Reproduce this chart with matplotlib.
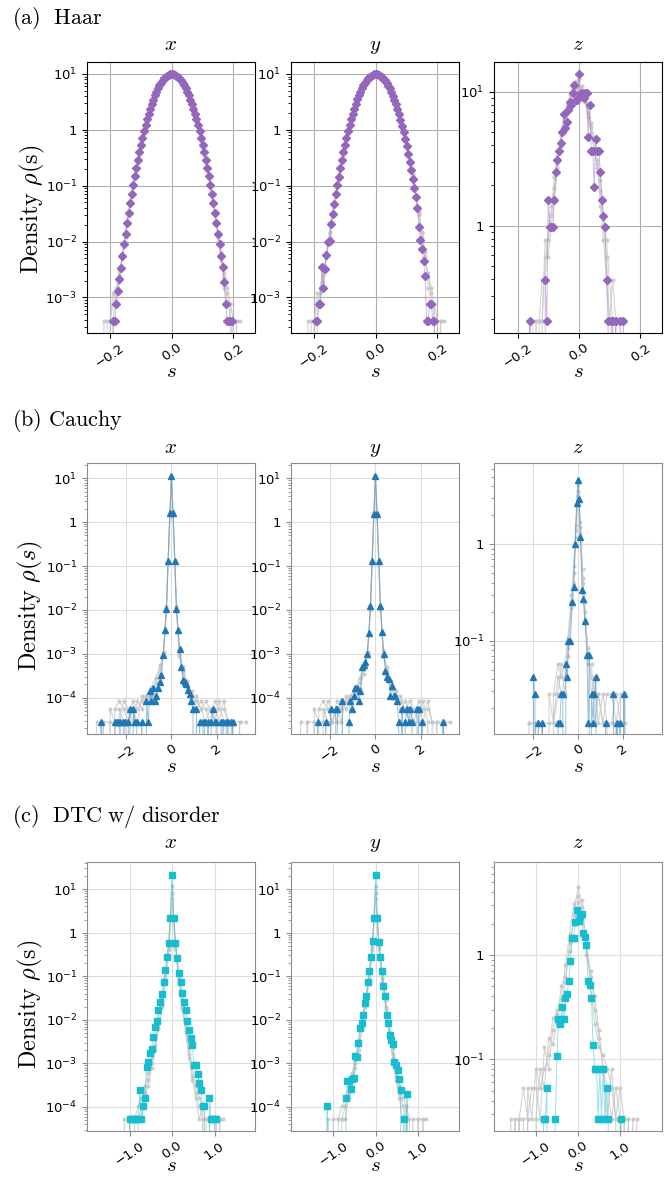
import numpy as np
import matplotlib
matplotlib.use('Agg')
import matplotlib.pyplot as plt
from matplotlib.ticker import LogLocator, FixedLocator, FuncFormatter, NullFormatter

# ---------------- (a) Haar ----------------
haar_bins = [-0.195, -0.19, -0.185, -0.18, -0.175, -0.17, -0.165, -0.16, -0.155, -0.15,
             -0.145, -0.14, -0.135, -0.13, -0.125, -0.12, -0.115, -0.11, -0.105, -0.1,
             -0.095, -0.09, -0.085, -0.08, -0.075, -0.07, -0.065, -0.06, -0.055, -0.05,
             -0.045, -0.04, -0.035, -0.03, -0.025, -0.02, -0.015, -0.01, -0.005, 0.0,
             0.005, 0.01, 0.015, 0.02, 0.025, 0.03, 0.035, 0.04, 0.045, 0.05,
             0.055, 0.06, 0.065, 0.07, 0.075, 0.08, 0.085, 0.09, 0.095, 0.1,
             0.105, 0.11, 0.115, 0.12, 0.125, 0.13, 0.135, 0.14, 0.145, 0.15,
             0.155, 0.16, 0.165, 0.17, 0.175, 0.18, 0.185, 0.19, 0.195, 0.2]
haar_x_rho = [0, 3.8e-4, 3.8e-4, 7.7e-4, 1.3e-3, 2.1e-3, 3.4e-3, 5.6e-3, 8.9e-3, 0.0139,
              0.0214, 0.0324, 0.0484, 0.0714, 0.104, 0.148, 0.209, 0.29, 0.398, 0.537,
              0.714, 0.936, 1.21, 1.54, 1.93, 2.39, 2.91, 3.49, 4.13, 4.81,
              5.53, 6.26, 6.99, 7.69, 8.33, 8.9, 9.36, 9.71, 9.93, 10.0,
              9.93, 9.71, 9.36, 8.9, 8.33, 7.69, 6.99, 6.26, 5.53, 4.81,
              4.13, 3.49, 2.91, 2.39, 1.93, 1.54, 1.21, 0.936, 0.714, 0.537,
              0.398, 0.29, 0.209, 0.148, 0.104, 0.0714, 0.0484, 0.0324, 0.0214, 0.0139,
              0.0089, 0.0056, 0.0035, 0.0019, 7.7e-4, 3.8e-4, 3.8e-4, 3.8e-4, 3.8e-4, 0]
haar_y_rho = [3.8e-4, 3.8e-4, 7.7e-4, 7.7e-4, 3.5e-3, 1.5e-3, 3.2e-3, 5.7e-3, 9.9e-3, 0.0102,
              0.021, 0.031, 0.047, 0.071, 0.102, 0.146, 0.21, 0.29, 0.40, 0.54,
              0.71, 0.94, 1.21, 1.55, 1.94, 2.4, 2.92, 3.5, 4.14, 4.8,
              5.54, 6.25, 6.98, 7.7, 8.32, 8.9, 9.37, 9.72, 9.94, 10.0,
              9.92, 9.7, 9.35, 8.88, 8.3, 7.66, 6.96, 6.22, 5.5, 4.78,
              4.1, 3.46, 2.88, 2.36, 1.9, 1.5, 1.18, 0.91, 0.69, 0.51,
              0.375, 0.27, 0.19, 0.133, 0.092, 0.062, 0.04, 0.018, 0.0105, 0.0072,
              0.0045, 0.0024, 3.8e-4, 3.8e-4, 7.7e-4, 7.7e-4, 3.8e-4, 3.8e-4, 0, 0]
haar_gray_s = [-0.22, -0.21, -0.2, -0.19, -0.18, -0.17, -0.16, -0.15, -0.14, -0.12,
               -0.1, -0.08, -0.06, -0.04, -0.02, 0.0, 0.02, 0.04, 0.06, 0.08,
               0.1, 0.12, 0.14, 0.15, 0.16, 0.17, 0.18, 0.19, 0.2, 0.21, 0.22]
haar_gray1 = [0, 3.8e-4, 3.8e-4, 7.7e-4, 1.2e-3, 2.5e-3, 6.0e-3, 0.014, 0.033, 0.15,
              0.54, 1.55, 3.5, 6.3, 8.9, 10.1, 8.9, 6.2, 3.5, 1.5,
              0.53, 0.15, 0.031, 0.014, 0.0055, 0.0023, 1.2e-3, 3.8e-4, 3.8e-4, 0, 0]
haar_gray2 = [3.8e-4, 0, 0, 3.8e-4, 1.5e-3, 3.0e-3, 5.0e-3, 0.012, 0.030, 0.14,
              0.52, 1.5, 3.4, 6.2, 8.8, 9.9, 8.8, 6.3, 3.5, 1.56,
              0.55, 0.16, 0.034, 0.015, 0.0065, 0.0015, 7.7e-4, 7.7e-4, 0, 3.8e-4, 3.8e-4]
haar_gray3 = [0, 0, 3.8e-4, 1.2e-3, 7.7e-4, 1.9e-3, 5.5e-3, 0.015, 0.034, 0.16,
              0.55, 1.53, 3.5, 6.2, 8.9, 10.0, 8.9, 6.2, 3.4, 1.5,
              0.52, 0.14, 0.030, 0.012, 0.0045, 0.0027, 1.5e-3, 7.7e-4, 3.8e-4, 3.8e-4, 0]

haar_z_s = [-0.165, -0.16, -0.155, -0.115, -0.11, -0.105, -0.1, -0.095, -0.09, -0.085,
            -0.08, -0.075, -0.07, -0.065, -0.06, -0.055, -0.05, -0.045, -0.04, -0.035,
            -0.03, -0.025, -0.02, -0.015, -0.01, -0.005, 0.0, 0.005, 0.01, 0.015,
            0.02, 0.025, 0.03, 0.035, 0.04, 0.045, 0.05, 0.055, 0.06, 0.065,
            0.07, 0.075, 0.08, 0.085, 0.09, 0.095, 0.1, 0.105, 0.11, 0.115,
            0.12, 0.125, 0.13, 0.135, 0.14, 0.145, 0.15]
haar_z_rho = [0, 0.195, 0, 0, 0.39, 0.195, 1.56, 0.97, 0.97, 0.97,
              1.56, 2.53, 3.09, 3.63, 4.12, 5.0, 6.8, 5.38, 5.88, 7.3,
              8.4, 7.9, 9.7, 11.1, 8.7, 8.7, 13.5, 9.6, 9.7, 9.0,
              9.7, 9.7, 4.57, 8.0, 3.6, 3.6, 1.95, 4.4, 3.6, 3.6,
              2.5, 1.56, 1.17, 0.97, 0.39, 0.195, 0, 0.195, 0.195, 0,
              0.195, 0, 0, 0.195, 0, 0.195, 0]
haar_z_gray_s = [-0.16, -0.15, -0.14, -0.13, -0.12, -0.11, -0.1, -0.09, -0.08, -0.07,
                 -0.06, -0.05, -0.04, -0.03, -0.02, -0.01, 0.0, 0.01, 0.02, 0.03,
                 0.04, 0.05, 0.06, 0.07, 0.08, 0.09, 0.1, 0.11, 0.12, 0.13]
haar_z_gray1 = [0, 0.195, 0.195, 0, 0.195, 0.58, 0.78, 1.2, 1.9, 2.9,
                4.3, 5.6, 7.2, 8.8, 10.5, 12.0, 10.8, 10.2, 9.1, 7.6,
                5.8, 4.5, 3.1, 2.2, 1.2, 0.78, 0.39, 0.195, 0, 0]
haar_z_gray2 = [0.195, 0, 0.195, 0.195, 0.39, 0.39, 0.97, 1.4, 2.3, 3.3,
                3.9, 6.1, 6.9, 9.4, 11.0, 10.1, 12.5, 9.3, 8.3, 6.4,
                4.9, 3.8, 2.7, 1.8, 1.0, 0.58, 0.195, 0.39, 0.195, 0]
haar_z_gray3 = [0, 0, 0, 0.195, 0.195, 0.78, 0.58, 1.0, 1.6, 2.7,
                4.7, 5.2, 7.8, 8.1, 9.9, 11.5, 9.5, 11.0, 8.6, 6.9,
                5.4, 3.5, 2.9, 1.4, 0.78, 0.39, 0.195, 0.195, 0.195, 0.195]

# ---------------- (b) Cauchy ----------------
cauchy_x_s = [-3.17, -3.1, -3.03, -2.55, -2.48, -2.41, -2.34, -2.26, -2.19, -2.12,
              -2.05, -1.97, -1.9, -1.83, -1.75, -1.68, -1.61, -1.53, -1.46, -1.39,
              -1.31, -1.24, -1.17, -1.1, -1.02, -0.95, -0.88, -0.8, -0.73, -0.66,
              -0.58, -0.51, -0.44, -0.37, -0.29, -0.22, -0.15, -0.07, 0.0, 0.07,
              0.15, 0.22, 0.29, 0.37, 0.44, 0.51, 0.58, 0.66, 0.73, 0.8,
              0.88, 0.95, 1.02, 1.1, 1.17, 1.24, 1.31, 1.39, 1.46, 1.53,
              1.61, 1.68, 1.75, 1.83, 1.9, 1.97, 2.05, 2.12, 2.19, 2.26,
              2.34, 2.41, 2.48, 2.55, 2.63, 2.7, 2.77]
cauchy_x_rho = [0, 2.8e-5, 0, 0, 2.8e-5, 2.8e-5, 2.8e-5, 2.8e-5, 0, 2.8e-5,
                2.8e-5, 0, 2.8e-5, 5.5e-5, 0, 5.5e-5, 2.8e-5, 2.8e-5, 0, 0,
                2.8e-5, 0, 0, 8.3e-5, 2.8e-5, 1.4e-4, 8.3e-5, 1.7e-4, 8.3e-5, 1.1e-4,
                1.7e-4, 2.3e-4, 3.3e-4, 9.3e-4, 3.5e-3, 0.0104, 0.133, 1.6, 11.3, 1.6,
                0.133, 0.0104, 3.5e-3, 1.26e-3, 5.1e-4, 2.5e-4, 2.3e-4, 2.0e-4, 1.5e-4, 1.2e-4,
                8.3e-5, 5.5e-5, 0, 5.5e-5, 0, 2.8e-5, 0, 2.8e-5, 2.8e-5, 0,
                2.8e-5, 0, 2.8e-5, 5.5e-5, 2.8e-5, 2.8e-5, 0, 0, 2.8e-5, 2.8e-5,
                0, 2.8e-5, 2.8e-5, 0, 2.8e-5, 2.8e-5, 0]
cauchy_y_s = [-2.62, -2.55, -2.48, -2.26, -2.19, -2.12, -2.05, -1.97, -1.9, -1.83,
              -1.75, -1.68, -1.61, -1.53, -1.46, -1.39, -1.24, -1.17, -1.1, -1.02,
              -0.95, -0.88, -0.8, -0.73, -0.66, -0.58, -0.51, -0.44, -0.37, -0.29,
              -0.22, -0.15, -0.07, 0.0, 0.07, 0.15, 0.22, 0.29, 0.37, 0.44,
              0.51, 0.58, 0.66, 0.73, 0.8, 0.88, 0.95, 1.02, 1.1, 1.17,
              1.24, 1.31, 1.39, 1.46, 1.53, 1.61, 1.68, 1.75, 1.83, 1.9,
              1.97, 2.05, 2.12, 2.9, 2.97, 3.04]
cauchy_y_rho = [0, 2.8e-5, 0, 0, 2.8e-5, 0, 0, 5.5e-5, 0, 0,
                5.5e-5, 5.5e-5, 0, 0, 8.3e-5, 0, 0, 2.8e-5, 8.3e-5, 5.5e-5,
                1.1e-4, 1.7e-4, 1.7e-4, 8.3e-5, 1.4e-4, 5.0e-4, 5.5e-4, 6.5e-4, 1.0e-3, 2.9e-3,
                0.012, 0.13, 1.5, 11.3, 1.5, 0.13, 0.012, 3.2e-3, 1.0e-3, 4.0e-4,
                3.0e-4, 2.6e-4, 1.1e-4, 1.8e-4, 1.1e-4, 1.1e-4, 8.3e-5, 2.8e-5, 0, 5.5e-5,
                0, 2.8e-5, 5.5e-5, 2.8e-5, 5.5e-5, 2.8e-5, 0, 0, 5.5e-5, 5.5e-5,
                0, 2.8e-5, 0, 0, 2.8e-5, 0]
cauchy_gray_s = [-3.3, -3.0, -2.7, -2.5, -2.3, -2.1, -1.9, -1.7, -1.5, -1.3,
                 -1.1, -0.9, -0.7, -0.5, -0.35, -0.22, -0.07, 0.0, 0.07, 0.22,
                 0.35, 0.5, 0.7, 0.9, 1.1, 1.3, 1.5, 1.7, 1.9, 2.1,
                 2.3, 2.5, 2.7, 3.0, 3.3]
cauchy_gray1 = [0, 2.8e-5, 2.8e-5, 0, 5.5e-5, 2.8e-5, 2.8e-5, 8.3e-5, 5.5e-5, 8.3e-5,
                1.1e-4, 1.4e-4, 2.2e-4, 4.5e-4, 1.1e-3, 0.011, 1.6, 11.0, 1.6, 0.011,
                1.2e-3, 4.0e-4, 2.0e-4, 1.1e-4, 8.3e-5, 5.5e-5, 2.8e-5, 5.5e-5, 2.8e-5, 8.3e-5,
                2.8e-5, 0, 2.8e-5, 2.8e-5, 0]
cauchy_gray2 = [2.8e-5, 0, 5.5e-5, 2.8e-5, 2.8e-5, 8.3e-5, 5.5e-5, 2.8e-5, 8.3e-5, 5.5e-5,
                1.1e-4, 1.7e-4, 2.8e-4, 5.5e-4, 9.0e-4, 0.010, 1.5, 11.2, 1.5, 0.010,
                1.0e-3, 5.0e-4, 1.7e-4, 1.4e-4, 5.5e-5, 8.3e-5, 5.5e-5, 2.8e-5, 8.3e-5, 5.5e-5,
                5.5e-5, 2.8e-5, 0, 2.8e-5, 2.8e-5]
cauchy_gray3 = [0, 2.8e-5, 0, 5.5e-5, 8.3e-5, 5.5e-5, 2.8e-5, 5.5e-5, 2.8e-5, 1.1e-4,
                8.3e-5, 1.1e-4, 1.7e-4, 3.5e-4, 1.0e-3, 0.012, 1.55, 11.1, 1.55, 0.012,
                9.0e-4, 3.5e-4, 2.4e-4, 1.1e-4, 1.1e-4, 5.5e-5, 8.3e-5, 5.5e-5, 5.5e-5, 2.8e-5,
                8.3e-5, 2.8e-5, 2.8e-5, 0, 0]

cauchy_z_s = [-2.1, -2.0, -1.93, -1.86, -1.78, -1.71, -1.6, -1.53, -0.97, -0.9,
              -0.82, -0.75, -0.68, -0.6, -0.55, -0.48, -0.43, -0.35, -0.26, -0.2,
              -0.13, -0.07, 0.0, 0.05, 0.1, 0.18, 0.24, 0.3, 0.4, 0.45,
              0.5, 0.55, 0.6, 0.67, 0.72, 0.8, 0.87, 1.16, 1.23, 1.3,
              1.51, 1.58, 1.65, 1.74, 1.81, 1.86, 1.93, 2.05, 2.12]
cauchy_z_rho = [0, 0.042, 0.028, 0, 0.014, 0, 0.014, 0, 0, 0.014,
                0.014, 0.028, 0.028, 0, 0.057, 0.042, 0.1, 0.1, 0.25, 0.36,
                1.0, 2.66, 4.6, 2.95, 1.18, 0.34, 0.27, 0.16, 0.071, 0.014,
                0.071, 0, 0.028, 0.014, 0.028, 0.042, 0, 0, 0.014, 0,
                0, 0.028, 0, 0.014, 0, 0.014, 0, 0.028, 0]
cauchy_z_gray_s = [-2.2, -1.9, -1.6, -1.3, -1.1, -0.9, -0.75, -0.6, -0.45, -0.3,
                   -0.2, -0.1, 0.0, 0.1, 0.2, 0.3, 0.45, 0.6, 0.75, 0.9,
                   1.1, 1.3, 1.5, 1.7, 1.9, 2.1]
cauchy_z_gray1 = [0.014, 0, 0.014, 0, 0.028, 0.057, 0.042, 0.057, 0.11, 0.3,
                  0.5, 1.4, 3.6, 1.3, 0.45, 0.2, 0.07, 0.042, 0.028, 0.028,
                  0.014, 0.028, 0.028, 0.014, 0.028, 0]
cauchy_z_gray2 = [0, 0.014, 0.014, 0.014, 0.014, 0.042, 0.028, 0.042, 0.085, 0.22,
                  0.6, 1.6, 4.1, 1.5, 0.55, 0.16, 0.085, 0.028, 0.042, 0.014,
                  0.028, 0.014, 0.014, 0.028, 0.014, 0.014]
cauchy_z_gray3 = [0.014, 0.014, 0, 0.028, 0.014, 0.028, 0.057, 0.028, 0.07, 0.25,
                  0.4, 1.2, 3.2, 1.7, 0.4, 0.25, 0.057, 0.057, 0.014, 0.028,
                  0.014, 0.014, 0, 0.014, 0, 0.028]

# ---------------- (c) DTC w/ disorder ----------------
dtc_x_s = [-1.04, -1.0, -0.96, -0.92, -0.88, -0.84, -0.8, -0.76, -0.72, -0.68,
           -0.64, -0.6, -0.56, -0.52, -0.48, -0.44, -0.4, -0.36, -0.32, -0.28,
           -0.24, -0.2, -0.16, -0.12, -0.08, -0.04, 0.0, 0.04, 0.08, 0.12,
           0.16, 0.2, 0.24, 0.28, 0.32, 0.36, 0.4, 0.44, 0.48, 0.52,
           0.56, 0.6, 0.64, 0.68, 0.72, 0.76, 0.8, 0.84, 0.88, 0.92,
           0.96, 1.0, 1.04, 1.08]
dtc_x_rho = [0, 5.2e-5, 5.2e-5, 5.2e-5, 5.2e-5, 5.2e-5, 5.2e-5, 2.5e-4, 5.2e-5, 1.05e-4,
             1.6e-4, 8.2e-4, 1.1e-3, 1.7e-3, 2.1e-3, 4.1e-3, 6.8e-3, 9.3e-3, 0.0165, 0.026,
             0.04, 0.075, 0.14, 0.27, 0.59, 2.2, 21.0, 2.2, 0.59, 0.26,
             0.12, 0.075, 0.042, 0.026, 0.0165, 0.0093, 0.0057, 0.0039, 0.0026, 9.0e-4,
             9.0e-4, 5.7e-4, 3.6e-4, 2.4e-4, 1.05e-4, 1.05e-4, 0, 0, 1.6e-4, 5.2e-5,
             5.2e-5, 5.2e-5, 5.2e-5, 0]
dtc_y_s = [-1.184, -1.147, -1.11, -0.74, -0.703, -0.666, -0.629, -0.592, -0.555, -0.518,
           -0.481, -0.444, -0.407, -0.37, -0.333, -0.296, -0.259, -0.222, -0.185, -0.148,
           -0.111, -0.074, -0.037, 0.0, 0.037, 0.074, 0.111, 0.148, 0.185, 0.222,
           0.259, 0.296, 0.333, 0.37, 0.407, 0.444, 0.481, 0.518, 0.555, 0.592,
           0.629, 0.666, 0.703, 0.74, 0.777]
dtc_y_rho = [0, 1.05e-4, 0, 0, 1.6e-4, 4.0e-4, 4.0e-4, 2.6e-4, 4.3e-4, 4.6e-4,
             1.5e-3, 1.4e-3, 3.0e-3, 6.4e-3, 8.5e-3, 0.0126, 0.024, 0.035, 0.074, 0.13,
             0.28, 0.63, 2.15, 21.0, 2.15, 0.6, 0.28, 0.13, 0.06, 0.035,
             0.0126, 0.0085, 0.0045, 0.0035, 0.0028, 1.1e-3, 9.0e-4, 7.0e-4, 4.3e-4, 2.5e-4,
             0, 5.2e-5, 0, 2.0e-4, 0]
dtc_gray_s = [-1.12, -1.0, -0.88, -0.8, -0.72, -0.64, -0.56, -0.48, -0.4, -0.32,
              -0.24, -0.16, -0.08, 0.0, 0.08, 0.16, 0.24, 0.32, 0.4, 0.48,
              0.56, 0.64, 0.72, 0.8, 0.88, 1.0, 1.12, 1.2]
dtc_gray1 = [5.2e-5, 0, 5.2e-5, 1.05e-4, 1.6e-4, 2.1e-4, 4.2e-4, 1.0e-3, 2.6e-3, 7e-3,
             0.022, 0.08, 0.45, 8.0, 0.5, 0.085, 0.02, 5.5e-3, 1.6e-3, 5.2e-4,
             2.1e-4, 1.05e-4, 5.2e-5, 0, 5.2e-5, 5.2e-5, 0, 0]
dtc_gray2 = [0, 5.2e-5, 5.2e-5, 5.2e-5, 1.05e-4, 3.1e-4, 6.0e-4, 1.4e-3, 3.5e-3, 0.01,
             0.03, 0.1, 0.52, 12.0, 0.55, 0.1, 0.028, 8.0e-3, 2.2e-3, 8.0e-4,
             3.1e-4, 1.6e-4, 1.05e-4, 5.2e-5, 0, 5.2e-5, 5.2e-5, 0]
dtc_gray3 = [0, 0, 0, 5.2e-5, 5.2e-5, 1.6e-4, 3.1e-4, 8.0e-4, 2.0e-3, 6.0e-3,
             0.02, 0.07, 0.4, 6.0, 0.42, 0.075, 0.018, 5.0e-3, 1.3e-3, 4.2e-4,
             1.6e-4, 5.2e-5, 1.05e-4, 0, 0, 0, 5.2e-5, 5.2e-5]

dtc_z_s = [-0.9, -0.82, -0.78, -0.74, -0.7, -0.58, -0.54, -0.5, -0.47, -0.44,
           -0.4, -0.37, -0.34, -0.3, -0.26, -0.22, -0.18, -0.14, -0.1, -0.06,
           -0.02, 0.02, 0.05, 0.09, 0.12, 0.16, 0.2, 0.24, 0.28, 0.32,
           0.36, 0.4, 0.44, 0.48, 0.52, 0.56, 0.6, 0.64, 0.68, 0.72,
           0.76, 0.98, 1.02, 1.06]
dtc_z_rho = [0, 0.027, 0.027, 0.053, 0, 0, 0.027, 0.107, 0.245, 0.22,
             0.245, 0.315, 0.245, 0.39, 0.42, 0.56, 0.88, 1.45, 1.45, 2.08,
             2.69, 2.1, 2.37, 2.45, 1.64, 1.5, 1.25, 0.56, 0.52, 0.39,
             0.136, 0.081, 0.081, 0.027, 0.081, 0.027, 0.081, 0.027, 0.053, 0.027,
             0, 0, 0.027, 0]
dtc_z_gray_s = [-1.6, -1.5, -1.4, -1.3, -1.2, -1.1, -1.0, -0.9, -0.8, -0.7,
                -0.6, -0.5, -0.4, -0.3, -0.2, -0.1, 0.0, 0.1, 0.2, 0.3,
                0.4, 0.5, 0.6, 0.7, 0.8, 0.9, 1.0, 1.1, 1.2, 1.3, 1.4]
dtc_z_gray1 = [0.027, 0, 0.027, 0.053, 0.027, 0, 0.027, 0.081, 0.053, 0.16,
               0.14, 0.22, 0.5, 0.62, 1.1, 2.4, 4.5, 2.9, 1.2, 0.7,
               0.3, 0.16, 0.081, 0.053, 0.027, 0.053, 0.027, 0, 0.027, 0, 0]
dtc_z_gray2 = [0, 0.027, 0, 0.027, 0.027, 0.053, 0.053, 0.027, 0.13, 0.081,
               0.19, 0.3, 0.38, 0.8, 1.6, 3.1, 3.7, 2.2, 1.5, 0.5,
               0.22, 0.13, 0.11, 0.081, 0.053, 0.027, 0.053, 0.027, 0, 0.027, 0]
dtc_z_gray3 = [0, 0, 0.027, 0, 0.053, 0.027, 0.081, 0.053, 0.081, 0.11,
               0.25, 0.27, 0.33, 0.55, 1.3, 2.0, 3.2, 3.4, 1.0, 0.62,
               0.4, 0.19, 0.081, 0.027, 0.081, 0.027, 0, 0.027, 0.027, 0, 0.027]

row_labels = [r'$\mathrm{(a)\ \ Haar}$', r'$\mathrm{(b)\ Cauchy}$',
              r'$\mathrm{(c)\ \ DTC\ w/\ disorder}$']
col_titles = [r'$x$', r'$y$', r'$z$']
ylabels = [r'$\mathrm{Density}\ \rho(\mathrm{s})$', r'$\mathrm{Density}\ \rho(s)$',
           r'$\mathrm{Density}\ \rho(\mathrm{s})$']

# ---------------- layout (pixels) ----------------
W, H = 667, 1178
col_left = [87, 291, 494]
ax_w = 168
row_top = [62, 463, 862]
row_h = [271, 271, 269]


def dec_label(v, pos):
    e = int(round(np.log10(v)))
    if e == 0:
        return '1'
    return r'$10^{%d}$' % e


def panel(ax, s, rho, grays, color, marker, ms, xlim, ylim, xticks, xlabels, soft):
    for gs, gr in grays:
        ax.plot(gs, gr, color='#c6c6c6', lw=0.8, alpha=0.75, marker='o', ms=2, zorder=2)
    ax.plot(s, rho, color=color, lw=0.7, alpha=0.45, zorder=3)
    ax.plot(s, rho, ls='none', marker=marker, color=color, ms=ms, zorder=4)
    ax.set_yscale('log')
    ax.set_xlim(*xlim)
    ax.set_ylim(*ylim)
    # only the decades inside the view get a label
    lo = int(np.ceil(np.log10(ylim[0])))
    hi = int(np.floor(np.log10(ylim[1])))
    ax.yaxis.set_major_locator(FixedLocator([10.0 ** e for e in range(lo, hi + 1)]))
    ax.yaxis.set_minor_locator(LogLocator(base=10, subs=np.arange(2, 10), numticks=20))
    ax.yaxis.set_major_formatter(FuncFormatter(dec_label))
    ax.yaxis.set_minor_formatter(NullFormatter())
    ax.set_xticks(xticks, xlabels)
    ax.tick_params(axis='x', labelrotation=35, labelsize=9.5, pad=2.5)
    ax.tick_params(axis='y', labelsize=9.5)
    ax.set_axisbelow(True)
    if soft:
        ax.grid(True, color='#dddddd', lw=0.8)
        for sp in ax.spines.values():
            sp.set_color('#8c8c8c')
        ax.tick_params(which='both', color='#8c8c8c')
    else:
        ax.grid(True, color='#b0b0b0', lw=0.8)


fig = plt.figure(figsize=(W / 100, H / 100), dpi=100)

axes = []
for r in range(3):
    row = []
    for c in range(3):
        b = 1 - (row_top[r] + row_h[r]) / H
        row.append(fig.add_axes([col_left[c] / W, b, ax_w / W, row_h[r] / H]))
    axes.append(row)

purple, blue, cyan = '#9467bd', '#1f77b4', '#17becf'
haar_grays = [(haar_gray_s, haar_gray1), (haar_gray_s, haar_gray2), (haar_gray_s, haar_gray3)]
haar_z_grays = [(haar_z_gray_s, haar_z_gray1), (haar_z_gray_s, haar_z_gray2), (haar_z_gray_s, haar_z_gray3)]
cauchy_grays = [(cauchy_gray_s, cauchy_gray1), (cauchy_gray_s, cauchy_gray2), (cauchy_gray_s, cauchy_gray3)]
cauchy_z_grays = [(cauchy_z_gray_s, cauchy_z_gray1), (cauchy_z_gray_s, cauchy_z_gray2),
                  (cauchy_z_gray_s, cauchy_z_gray3)]
dtc_grays = [(dtc_gray_s, dtc_gray1), (dtc_gray_s, dtc_gray2), (dtc_gray_s, dtc_gray3)]
dtc_z_grays = [(dtc_z_gray_s, dtc_z_gray1), (dtc_z_gray_s, dtc_z_gray2), (dtc_z_gray_s, dtc_z_gray3)]

hx_ticks, hx_lab = [-0.2, 0.0, 0.2], ['\u22120.2', '0.0', '0.2']
cx_ticks, cx_lab = [-2, 0, 2], ['\u22122', '0', '2']
dx_ticks, dx_lab = [-1.0, 0.0, 1.0], ['\u22121.0', '0.0', '1.0']

panel(axes[0][0], haar_bins, haar_x_rho, haar_grays, purple, 'D', 3.6,
      (-0.275, 0.27), (2.3e-4, 16.4), hx_ticks, hx_lab, False)
panel(axes[0][1], haar_bins, haar_y_rho, haar_grays, purple, 'D', 3.6,
      (-0.275, 0.27), (2.3e-4, 16.4), hx_ticks, hx_lab, False)
panel(axes[0][2], haar_z_s, haar_z_rho, haar_z_grays, purple, 'D', 3.6,
      (-0.277, 0.271), (0.158, 16.6), hx_ticks, hx_lab, False)

panel(axes[1][0], cauchy_x_s, cauchy_x_rho, cauchy_grays, blue, '^', 3.8,
      (-3.72, 3.68), (1.48e-5, 22.4), cx_ticks, cx_lab, True)
panel(axes[1][1], cauchy_y_s, cauchy_y_rho, cauchy_grays, blue, '^', 3.8,
      (-3.72, 3.68), (1.48e-5, 22.4), cx_ticks, cx_lab, True)
panel(axes[1][2], cauchy_z_s, cauchy_z_rho, cauchy_z_grays, blue, '^', 3.8,
      (-3.76, 3.75), (0.0108, 6.97), cx_ticks, cx_lab, True)

panel(axes[2][0], dtc_x_s, dtc_x_rho, dtc_grays, cyan, 's', 4,
      (-2.0, 1.95), (2.8e-5, 42), dx_ticks, dx_lab, True)
panel(axes[2][1], dtc_y_s, dtc_y_rho, dtc_grays, cyan, 's', 4,
      (-2.0, 1.97), (2.8e-5, 42), dx_ticks, dx_lab, True)
panel(axes[2][2], dtc_z_s, dtc_z_rho, dtc_z_grays, cyan, 's', 4,
      (-2.0, 2.0), (0.0205, 7.8), dx_ticks, dx_lab, True)

title_pad = [9, 7, 10]
xlab_y = [-0.105, -0.082, -0.088]
ylab_pos = [(-0.236, 0.455), (-0.25, 0.475), (-0.25, 0.47)]
label_y = [18, 420, 817]
for r in range(3):
    fig.text(12 / W, 1 - label_y[r] / H, row_labels[r], math_fontfamily='cm',
             fontsize=16, ha='left', va='center')
    for c in range(3):
        ax = axes[r][c]
        ax.set_title(col_titles[c], math_fontfamily='cm', fontsize=15, pad=title_pad[r])
        ax.set_xlabel(r'$s$', math_fontfamily='cm', fontsize=15)
        ax.xaxis.set_label_coords(0.5, xlab_y[r])
    axes[r][0].set_ylabel(ylabels[r], math_fontfamily='cm', fontsize=17.5)
    axes[r][0].yaxis.set_label_coords(*ylab_pos[r])

fig.savefig('out.png', dpi=100)
